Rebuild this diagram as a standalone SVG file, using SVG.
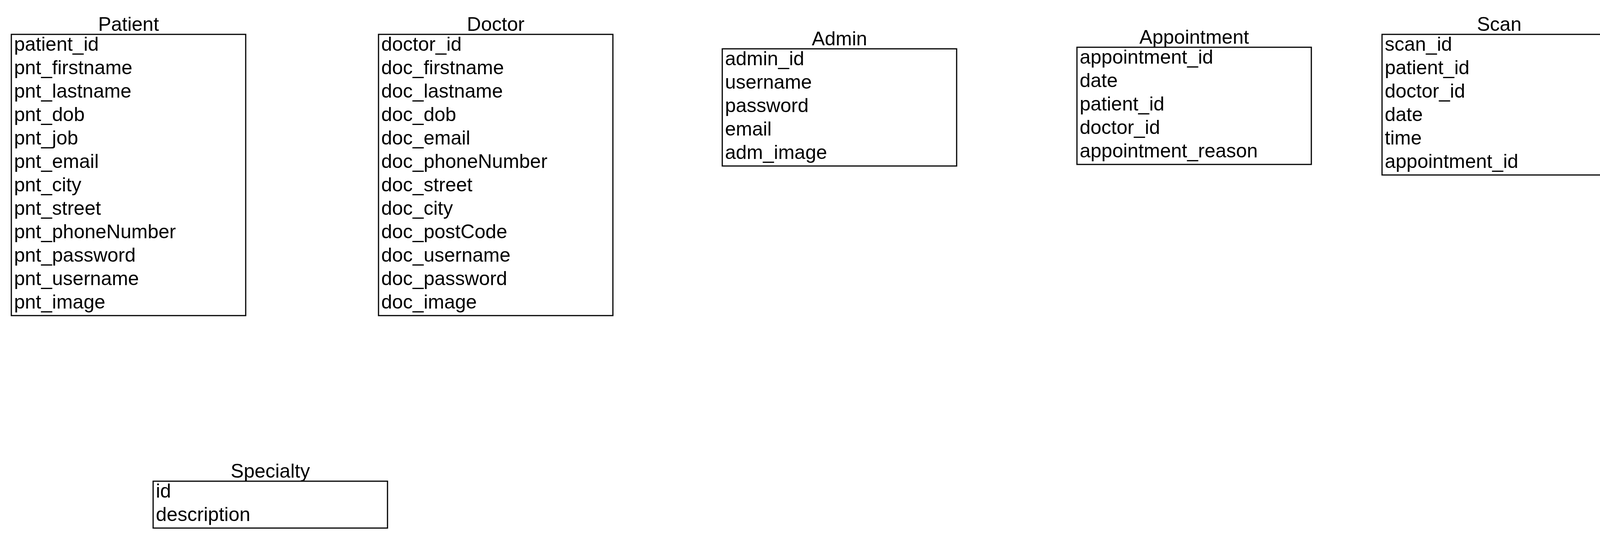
<svg xmlns="http://www.w3.org/2000/svg" width="4164" height="1380" viewBox="0 0 4164 1380">
<style>
.box{fill:#fff;stroke:#000;stroke-width:3}
.t{font-family:"Liberation Sans",Arial,sans-serif;font-size:50px;fill:#000}
.h{font-family:"Liberation Sans",Arial,sans-serif;font-size:50px;fill:#000;text-anchor:middle}
</style>
<rect width="4164" height="1380" fill="#fff"/>
<g id="connectors"></g>
<g id="patient">
<text class="h" x="329" y="79">Patient</text>
<rect class="box" x="29" y="88" width="600" height="720"/>
<text class="t" x="36" y="130">patient_id</text>
<text class="t" x="36" y="190">pnt_firstname</text>
<text class="t" x="36" y="250">pnt_lastname</text>
<text class="t" x="36" y="310">pnt_dob</text>
<text class="t" x="36" y="370">pnt_job</text>
<text class="t" x="36" y="430">pnt_email</text>
<text class="t" x="36" y="490">pnt_city</text>
<text class="t" x="36" y="550">pnt_street</text>
<text class="t" x="36" y="610">pnt_phoneNumber</text>
<text class="t" x="36" y="670">pnt_password</text>
<text class="t" x="36" y="730">pnt_username</text>
<text class="t" x="36" y="790">pnt_image</text>
</g>
<g id="doctor">
<text class="h" x="1269" y="79">Doctor</text>
<rect class="box" x="969" y="88" width="600" height="720"/>
<text class="t" x="976" y="130">doctor_id</text>
<text class="t" x="976" y="190">doc_firstname</text>
<text class="t" x="976" y="250">doc_lastname</text>
<text class="t" x="976" y="310">doc_dob</text>
<text class="t" x="976" y="370">doc_email</text>
<text class="t" x="976" y="430">doc_phoneNumber</text>
<text class="t" x="976" y="490">doc_street</text>
<text class="t" x="976" y="550">doc_city</text>
<text class="t" x="976" y="610">doc_postCode</text>
<text class="t" x="976" y="670">doc_username</text>
<text class="t" x="976" y="730">doc_password</text>
<text class="t" x="976" y="790">doc_image</text>
</g>
<g id="admin">
<text class="h" x="2149" y="116">Admin</text>
<rect class="box" x="1849" y="125" width="600" height="300"/>
<text class="t" x="1856" y="167">admin_id</text>
<text class="t" x="1856" y="227">username</text>
<text class="t" x="1856" y="287">password</text>
<text class="t" x="1856" y="347">email</text>
<text class="t" x="1856" y="407">adm_image</text>
</g>
<g id="appointment">
<text class="h" x="3057" y="112">Appointment</text>
<rect class="box" x="2757" y="121" width="600" height="300"/>
<text class="t" x="2764" y="163">appointment_id</text>
<text class="t" x="2764" y="223">date</text>
<text class="t" x="2764" y="283">patient_id</text>
<text class="t" x="2764" y="343">doctor_id</text>
<text class="t" x="2764" y="403">appointment_reason</text>
</g>
<g id="scan">
<text class="h" x="3838" y="79">Scan</text>
<rect class="box" x="3538" y="88" width="600" height="360"/>
<text class="t" x="3545" y="130">scan_id</text>
<text class="t" x="3545" y="190">patient_id</text>
<text class="t" x="3545" y="250">doctor_id</text>
<text class="t" x="3545" y="310">date</text>
<text class="t" x="3545" y="370">time</text>
<text class="t" x="3545" y="430">appointment_id</text>
</g>
<g id="specialty">
<text class="h" x="692" y="1223">Specialty</text>
<rect class="box" x="392" y="1232" width="600" height="120"/>
<text class="t" x="399" y="1274">id</text>
<text class="t" x="399" y="1334">description</text>
</g>
</svg>
